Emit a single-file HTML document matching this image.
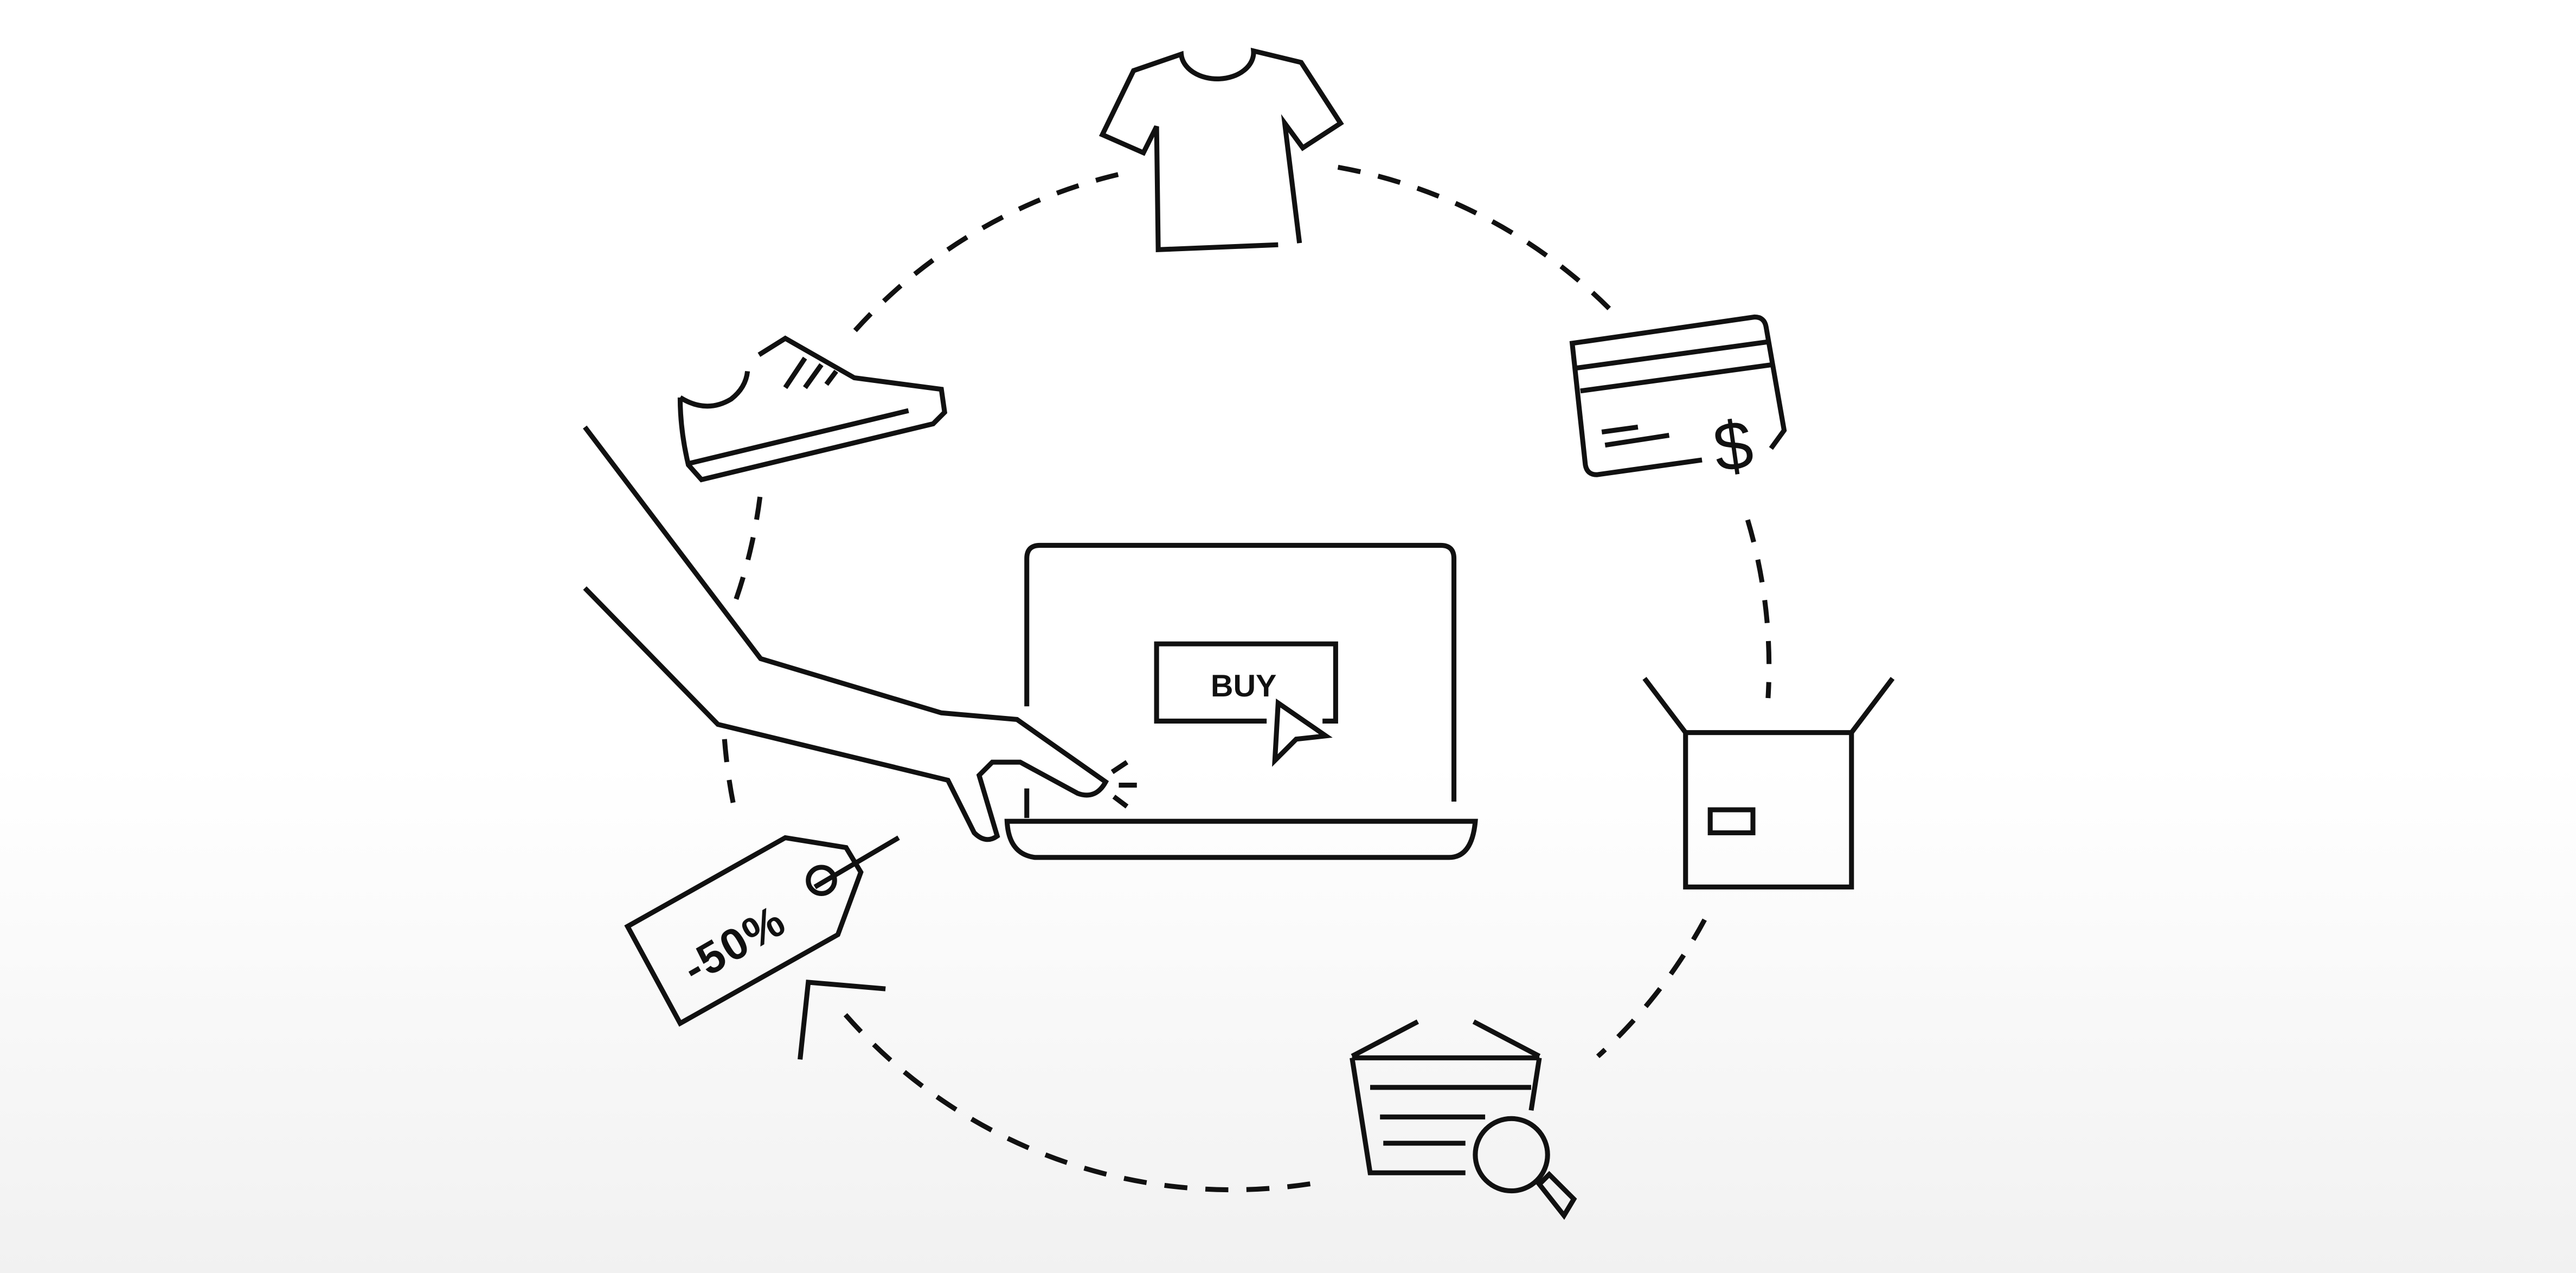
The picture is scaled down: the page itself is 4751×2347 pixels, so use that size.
<!DOCTYPE html>
<html><head><meta charset="utf-8"><style>
html,body{margin:0;padding:0;width:4751px;height:2347px;overflow:hidden;}
body{background:linear-gradient(#ffffff 0%,#ffffff 60%,#f1f1f1 100%);}
svg{display:block;}
</style></head><body>
<svg width="4751" height="2347" viewBox="0 0 1568 775" preserveAspectRatio="none" xmlns="http://www.w3.org/2000/svg">
<g fill="none" stroke="#111" stroke-width="3" stroke-linejoin="miter">
<g stroke-dasharray="14 11">
<path d="M 520.5 201.2 A 313 313 0 0 1 681.2 106.1"/>
<path d="M 814.4 101.8 A 313 313 0 0 1 981.3 189.6"/>
<path d="M 1063.8 316.5 A 313 313 0 0 1 1076.2 425.0"/>
<path d="M 1037.6 559.9 A 313 313 0 0 1 972.6 643.1"/>
<path d="M 797.5 720.7 A 313 313 0 0 1 510.0 612.4"/>
<path d="M 441 450 Q 443 475 448 497"/>
<path d="M 462.6 302.5 A 313 313 0 0 1 445.5 372.0"/>
</g>
<path d="M778 149 L705 152 L704 77 L696 93 L671 82 L690 43 L719 33 A22 16 0 0 0 763 31 L792 38 L816 75 L793 90 L782 75 L791 148"/>
<path d="M1036 280 L972 289 Q966 289 965 283 L957 209 L1068 193 Q1074 193 1075 199 L1086 262 L1078 273"/>
<path d="M960 224 L1077 208 M962 238 L1079 222 M975 263 L997 260 M977 271 L1016 265"/>
<text x="1055" y="286" font-family="Liberation Sans, sans-serif" font-size="42" fill="#111" stroke="none" text-anchor="middle" transform="rotate(-8 1055 272)">$</text>
<rect x="1026" y="446" width="101" height="94"/>
<path d="M1026 446 L1001 413 M1127 446 L1152 413"/>
<rect x="1041" y="493" width="26" height="14"/>
<path d="M823 643 L863 622 M937 643 L897 622 M823 644 L937 644 M823 644 L834 714 L892 714 M937 644 L932 676"/>
<path d="M834 662 L932 662 M840 680 L904 680 M842 696 L892 696"/>
<circle cx="920" cy="703" r="22"/>
<path d="M937 721 L943 715 L958 730 L952 740 Z"/>
<path d="M382 564 L478 510 L515 516 L524 531 L510 569 L414 623 Z"/>
<circle cx="500" cy="536" r="8"/>
<path d="M547 510 L496 540"/>
<text x="447" y="584" font-family="Liberation Sans, sans-serif" font-size="27" font-weight="bold" letter-spacing="1" fill="#111" stroke="none" text-anchor="middle" transform="rotate(-30 447 575)">-50%</text>
<path d="M487 645 L492 598 L539 602"/>
<path d="M414 242 Q430 252 445 243 Q454 236 455 226 M462 216 L478 206 L520 230 L573 237 L575 251 L568 258 L427 292 L419 283 Q414 262 414 242"/>
<path d="M420 282 L553 250 M478 236 L490 218 M490 236 L500 222 M503 234 L509 226"/>
<path d="M625 430 L625 340 Q625 332 633 332 L877 332 Q885 332 885 340 L885 488"/>
<path d="M613 500 L898 500 Q896 522 882 522 L630 522 Q614 520 613 500 Z"/>
<path d="M625 480 L625 498"/>
<path d="M771 439 L704 439 L704 392 L813 392 L813 439 L805 439"/>
<text x="757" y="424" font-family="Liberation Sans, sans-serif" font-size="19" font-weight="bold" fill="#111" stroke="none" text-anchor="middle">BUY</text>
<path d="M778 428 L807 448 L789 450 L776 463 Z" fill="#fff"/>
<path d="M356 260 L463 401 L573 434 L619 438 L673 476 Q667 487 656 483 L621 464 L604 464 L596 472 L607 509 Q600 514 593 507 L577 475 L437 441 L356 358"/>
<path d="M677 470 L686 464 M681 478 L692 478 M678 485 L686 491"/>
</g>
</svg>
</body></html>
